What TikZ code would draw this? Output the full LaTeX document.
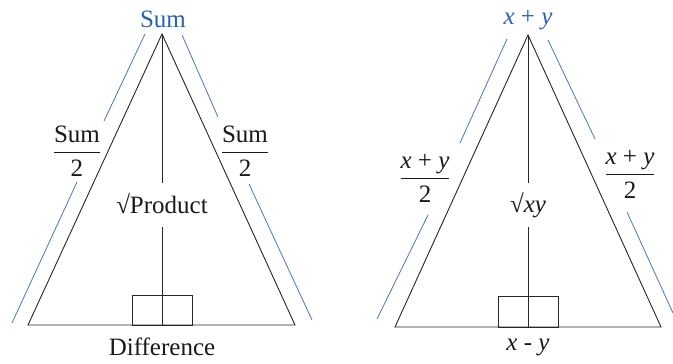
\documentclass[tikz,border=0pt]{standalone}
\usepackage{amsmath}
\usepackage{fontspec}
\setmainfont{Liberation Serif}
\definecolor{topblue}{RGB}{40,98,178}
\definecolor{lineblue}{RGB}{80,115,190}
\begin{document}
\begin{tikzpicture}[x=1pt,y=-1pt,
  tri/.style={draw=black!85,line width=0.9pt},
  side/.style={draw=lineblue,line width=0.8pt},
  lbl/.style={font=\fontsize{25}{28}\selectfont,text=black!90,inner sep=0pt},
  toplbl/.style={font=\fontsize{25}{28}\selectfont,text=topblue,inner sep=0pt},
  frac/.style={font=\fontsize{25}{28}\selectfont,text=black!90,inner sep=0pt}]
\useasboundingbox (0,0) rectangle (673,364);
% ---------- left triangle ----------
\coordinate (A) at (162,34);
\coordinate (B) at (28,325);
\coordinate (C) at (295,325);
\coordinate (F) at (162,325);
\draw[tri] (A) -- (B) -- (C) -- cycle;
\node[lbl] (prod) at (162,204) {√Product};
\draw[tri] (A) -- (162,183);
\draw[tri] (162,227) -- (F);
\draw[tri] (132,295) rectangle (192,325);
\node[toplbl] (sum) at (163,19) {Sum};
\node[lbl] (diff) at (162,347) {Difference};
\node[frac] (fl) at (77,151) {$\dfrac{\text{Sum}}{\text{2}}$};
\node[frac] (fr) at (245,151) {$\dfrac{\text{Sum}}{\text{2}}$};
\draw[side] (145,34) -- (104,121);
\draw[side] (77,182) -- (12,323);
\draw[side] (182,35) -- (218,117);
\draw[side] (249,184) -- (312,320);
% ---------- right triangle ----------
\coordinate (A2) at (528,35);
\coordinate (B2) at (395,327);
\coordinate (C2) at (661,327);
\coordinate (F2) at (528,327);
\draw[tri] (A2) -- (B2) -- (C2) -- cycle;
\node[lbl] (sq) at (528,205) {√\textit{xy}};
\draw[tri] (A2) -- (528,183);
\draw[tri] (528,227) -- (F2);
\draw[tri] (498,296) rectangle (558,327);
\node[toplbl] (xpy) at (528,20) {\textit{x} + \textit{y}};
\node[lbl] (xmy) at (528,347) {\textit{x} - \textit{y}};
\node[frac] (gl) at (425,178) {$\dfrac{\text{\textit{x} + \textit{y}}}{\text{2}}$};
\node[frac] (gr) at (630,174) {$\dfrac{\text{\textit{x} + \textit{y}}}{\text{2}}$};
\draw[side] (507,39) -- (460,143);
\draw[side] (428,215) -- (377,319);
\draw[side] (548,40) -- (595,139);
\draw[side] (627,212) -- (673,313);
\end{tikzpicture}
\end{document}
